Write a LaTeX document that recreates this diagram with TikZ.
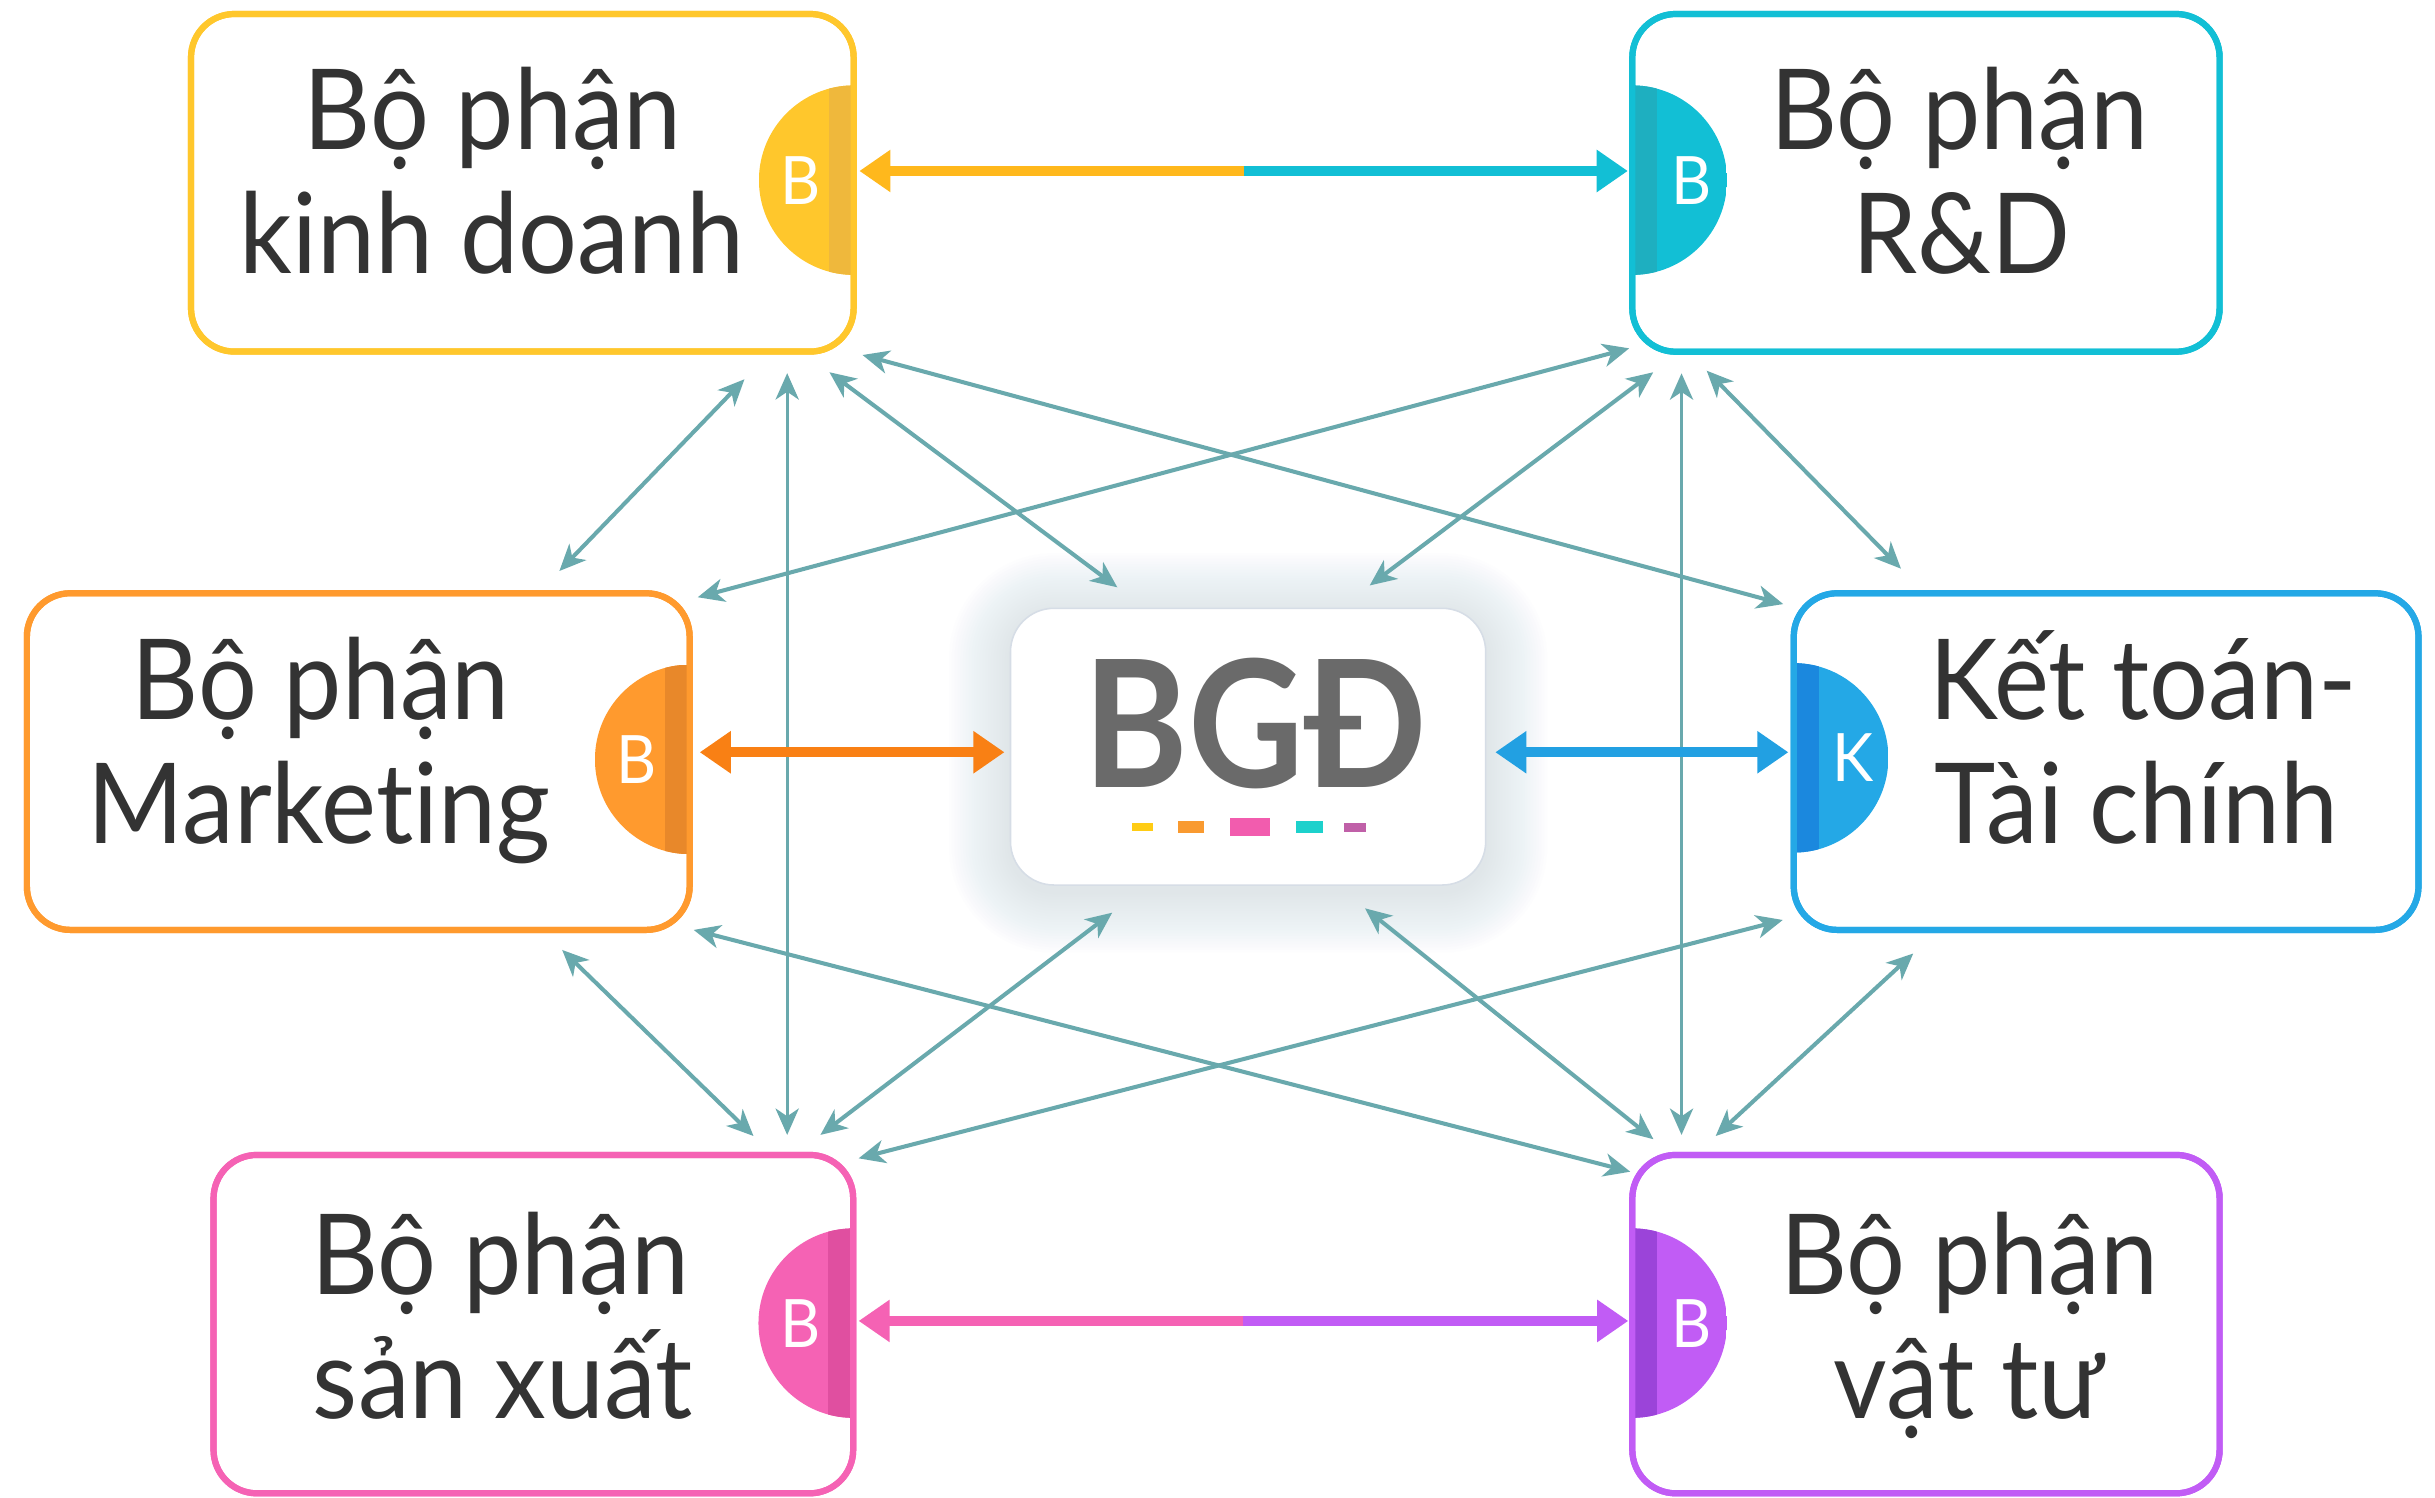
\documentclass[tikz,border=0pt]{standalone}
\usepackage{fontspec}
\setmainfont{Lato}[FakeStretch=0.93, Ligatures=NoCommon]
\newfontfamily\bgdfont{Lato}[FakeStretch=0.9]
\usetikzlibrary{arrows.meta}

% department colours: frame / badge strip / arrow
\definecolor{cKD}{HTML}{FFC72C}
\definecolor{sKD}{HTML}{EFB83C}
\definecolor{aKD}{HTML}{FFB81C}
\definecolor{cRD}{HTML}{12BFD5}
\definecolor{sRD}{HTML}{1EAFC0}
\definecolor{cMK}{HTML}{FF9A2E}
\definecolor{sMK}{HTML}{E8882A}
\definecolor{aMK}{HTML}{F98014}
\definecolor{cKT}{HTML}{24A8E6}
\definecolor{sKT}{HTML}{1B88DE}
\definecolor{aKT}{HTML}{22A0E2}
\definecolor{cSX}{HTML}{F562B4}
\definecolor{sSX}{HTML}{E04FA0}
\definecolor{cVT}{HTML}{C15CF5}
\definecolor{sVT}{HTML}{9B44D9}
\definecolor{linkc}{HTML}{69A9AD}
\definecolor{txt}{HTML}{333333}
\definecolor{bgdtxt}{HTML}{6A6A6A}
\definecolor{glow}{HTML}{AEBBCB}
\definecolor{bgdline}{HTML}{D6DDE6}
\definecolor{dY}{HTML}{FFCC14}
\definecolor{dO}{HTML}{F99A30}
\definecolor{dP}{HTML}{F25CAE}
\definecolor{dC}{HTML}{1DD1CC}
\definecolor{dV}{HTML}{C060A8}

\tikzset{
  dept/.style={draw=#1, fill=white, line width=4pt, rounded corners=28pt,
    inner sep=0pt, outer sep=0pt},
  deptframe/.style={draw=#1, line width=4pt, rounded corners=28pt},
  lbl/.style={text=txt, font=\fontsize{72}{72}\selectfont, inner sep=0pt, anchor=base},
  badgeletter/.style={text=white, font=\fontsize{43}{43}\selectfont, inner sep=0pt},
  link/.style={draw=linkc, line width=2.6pt, <->,
    >={Stealth[length=17pt,width=15pt,inset=5pt]}},
  vlink/.style={link, line width=1.8pt},
  bigarrow/.style={line width=6.4pt, ->, >={Triangle[length=20pt,width=26pt]}},
  bigdouble/.style={line width=6.4pt, <->, >={Triangle[length=20pt,width=26pt]}},
}

% half-disc badge on a frame edge:
% #1 name, #2 edge x, #3 centre y, #4 side (1 = right, -1 = left), #5 fill, #6 strip, #7 letter, #8 letter offset
\newcommand\deptbadge[8]{%
  \begin{scope}
    \clip ({#2},{#3}) circle[radius=61];
    \fill[#5] ({#2},{#3-61}) rectangle ({#2+(#4)*61},{#3+61});
    \fill[#6] ({#2},{#3-61}) rectangle ({#2+(#4)*16},{#3+61});
  \end{scope}
  \node[badgeletter] (#1) at ({#2+(#4)*(#8)},{#3}) {#7};
}

\begin{document}
\begin{tikzpicture}[x=1pt,y=-1pt]
\fill[white] (0,0) rectangle (1568,964);
\useasboundingbox (0,0) rectangle (1568,964);

% soft glow around the board of directors
\foreach \i in {1,...,22}{
  \pgfmathsetmacro\gr{28+1.8*\i}
  \fill[glow, opacity=0.016, rounded corners=\gr pt]
    ({650.7-1.8*\i},{395.7-1.8*\i}) rectangle ({956.7+1.8*\i},{573.9+1.8*\i});
}
\node[draw=bgdline, line width=1pt, fill=white, rounded corners=28pt,
      minimum width=306pt, minimum height=178.2pt, inner sep=0pt] (bgd) at (803.7,480.8) {};
\node[font=\bgdfont\bfseries\fontsize{114}{114}\selectfont, text=bgdtxt, anchor=base, inner sep=0pt]
  (bgdt) at (808.3,507) {BGĐ};
\fill[dY] (728.8,530.0) rectangle (742.3,535.4);
\fill[dO] (758.3,528.7) rectangle (775.6,536.7);
\fill[dP] (792.3,527.0) rectangle (817.5,538.4);
\fill[dC] (834.3,528.7) rectangle (852.0,536.7);
\fill[dV] (865.6,529.8) rectangle (879.6,535.6);

% department frames
\node[dept=cKD, minimum width=426.7pt, minimum height=217.4pt] (kd) at (336.35,117.7) {};
\node[dept=cRD, minimum width=378.2pt, minimum height=217.5pt] (rd) at (1240.2,117.75) {};
\node[dept=cMK, minimum width=426.8pt, minimum height=216.8pt] (mk) at (230.7,490.4) {};
\node[dept=cKT, minimum width=402.3pt, minimum height=216.8pt] (kt) at (1356.2,490.4) {};
\node[dept=cSX, minimum width=411.9pt, minimum height=217.9pt] (sx) at (343.45,852.65) {};
\node[dept=cVT, minimum width=378.2pt, minimum height=217.9pt] (vt) at (1240.2,852.65) {};

% badges
\deptbadge{kdb}{549.7}{116}{-1}{cKD}{sKD}{B}{34}
\deptbadge{rdb}{1051.1}{116}{1}{cRD}{sRD}{B}{38}
\deptbadge{mkb}{444.1}{489}{-1}{cMK}{sMK}{B}{34}
\deptbadge{ktb}{1155}{488}{1}{cKT}{sKT}{K}{38}
\deptbadge{sxb}{549.4}{852}{-1}{cSX}{sSX}{B}{34}
\deptbadge{vtb}{1051.1}{852}{1}{cVT}{sVT}{B}{38}

% frames on top of the badges
\draw[deptframe=cKD] (kd.south west) rectangle (kd.north east);
\draw[deptframe=cRD] (rd.south west) rectangle (rd.north east);
\draw[deptframe=cMK] (mk.south west) rectangle (mk.north east);
\draw[deptframe=cKT] (kt.south west) rectangle (kt.north east);
\draw[deptframe=cSX] (sx.south west) rectangle (sx.north east);
\draw[deptframe=cVT] (vt.south west) rectangle (vt.north east);

% labels
\node[lbl] (kd1) at (317.3,96.2) {Bộ phận};
\node[lbl] (kd2) at (317,176) {kinh doanh};
\node[lbl] (rd1) at (1261.5,96.2) {Bộ phận};
\node[lbl] (rd2) at (1263,176) {R\&D};
\node[lbl] (mk1) at (206.6,463.6) {Bộ phận};
\node[lbl] (mk2) at (205.3,543) {Marketing};
\node[lbl] (kt1) at (1380,463.2) {Kết toán-};
\node[lbl] (kt2) at (1375.8,543) {Tài chính};
\node[lbl] (sx1) at (322,833.4) {Bộ phận};
\node[lbl] (sx2) at (323.7,913.3) {sản xuất};
\node[lbl] (vt1) at (1268,833.4) {Bộ phận};
\node[lbl] (vt2) at (1268,913.3) {vật tư};

% connector end points
\coordinate (kdR) at (553.4,110.1);
\coordinate (rdL) at (1048.2,110.1);
\coordinate (topmid) at (800.8,110.1);
\coordinate (sxR) at (552.9,850.6);
\coordinate (vtL) at (1048.5,850.6);
\coordinate (botmid) at (800.7,850.6);
\coordinate (mkR) at (450.6,484.4);
\coordinate (bgdL) at (646.8,484.4);
\coordinate (bgdR) at (962.9,484.4);
\coordinate (ktL) at (1151.6,484.4);

\coordinate (a1) at (479.4,244.2);   \coordinate (b1) at (360.2,367.7);
\coordinate (a2) at (506.9,240.3);   \coordinate (b2) at (506.9,730.8);
\coordinate (a3) at (534.1,239.7);   \coordinate (b3) at (719.5,378.2);
\coordinate (a4) at (555.4,228.6);   \coordinate (b4) at (1148.3,389.0);
\coordinate (a5) at (1049.1,224.3);  \coordinate (b5) at (449.3,384.6);
\coordinate (a6) at (1064.6,239.7);  \coordinate (b6) at (882.0,377.0);
\coordinate (a7) at (1082.8,240.4);  \coordinate (b7) at (1082.8,730.8);
\coordinate (a8) at (1099.0,238.7);  \coordinate (b8) at (1224.1,366.2);
\coordinate (a9) at (446.7,598.8);   \coordinate (b9) at (1049.8,754.5);
\coordinate (a10) at (362.0,611.7);  \coordinate (b10) at (485.2,731.5);
\coordinate (a11) at (716.2,587.7);  \coordinate (b11) at (528.3,730.8);
\coordinate (a12) at (879.0,584.9);  \coordinate (b12) at (1064.7,733.6);
\coordinate (a13) at (1148.0,592.4); \coordinate (b13) at (552.9,745.9);
\coordinate (a14) at (1232.0,614.0); \coordinate (b14) at (1104.8,731.5);

% links between every pair of departments
\foreach \k in {1,3,4,5,6,8,9,10,11,12,13,14}{
  \draw[link] (a\k) -- (b\k);
}
\draw[vlink] (a2) -- (b2);
\draw[vlink] (a7) -- (b7);

% main two-way arrows
\draw[bigarrow, aKD] (topmid) -- (kdR);
\draw[bigarrow, cRD] (topmid) -- (rdL);
\draw[bigarrow, cSX] (botmid) -- (sxR);
\draw[bigarrow, cVT] (botmid) -- (vtL);
\draw[bigdouble, aMK] (mkR) -- (bgdL);
\draw[bigdouble, aKT] (bgdR) -- (ktL);
\end{tikzpicture}
\end{document}
